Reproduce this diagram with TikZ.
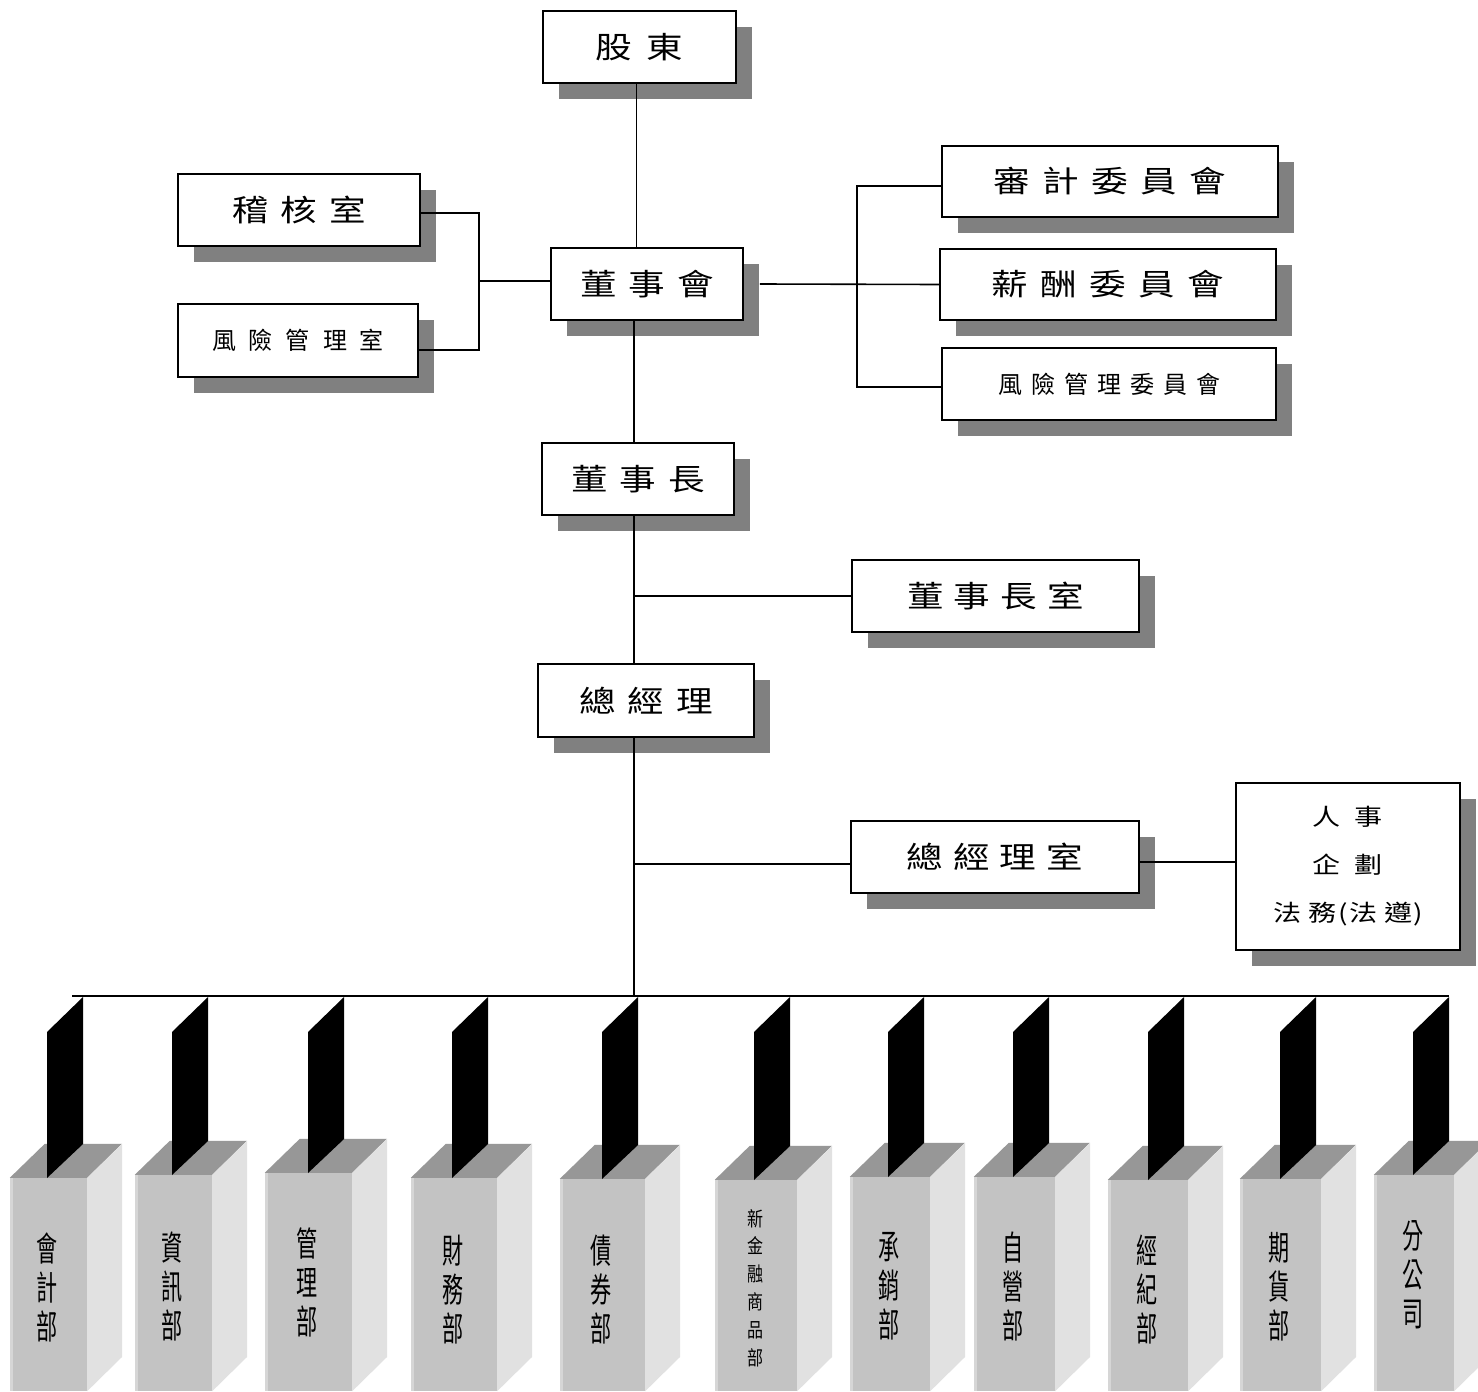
\documentclass[tikz,border=0pt]{standalone}
\usepackage{fontspec}
\setmainfont{Noto Sans CJK TC}
\newfontfamily\titlefont[FakeStretch=1.22]{Noto Sans CJK TC}
\newfontfamily\deptfontfam[FakeStretch=0.62]{Noto Sans CJK TC}
\newfontfamily\smallfontfam[FakeStretch=0.8]{Noto Sans CJK TC}
\usetikzlibrary{shadows,calc}
\definecolor{shadowgray}{HTML}{808080}
\definecolor{frontgray}{HTML}{C3C3C3}
\definecolor{frontedge}{HTML}{D6D6D6}
\definecolor{topgray}{HTML}{979797}
\definecolor{sidegray}{HTML}{E1E1E1}

% one department drawn as a 3-D block hanging from the bus by a black tab
% #1 name, #2 front left, #3 front right, #4 front top, #5 tab left, #6 text centre y, #7 text style, #8 text
\newcommand\deptblock[8]{%
  \pgfmathsetmacro\dbw{#3-#2}%
  \pgfmathsetmacro\dbh{1391-#4}%
  \pgfmathsetmacro\dbcx{(#2+#3)/2}%
  \pgfmathsetmacro\dbcy{(#4+1391)/2}%
  \pgfmathsetmacro\dbxr{#5+36}%
  \pgfmathsetmacro\dbyb{#4-34}%
  \node[deptface, minimum width=\dbw pt, minimum height=\dbh pt] (d#1) at (\dbcx,\dbcy) {};
  \fill[frontedge] (d#1.north west) rectangle ++(3,\dbh);
  \fill[topgray] (d#1.north west) -- ++(35,-34) -- ++(\dbw,0) -- (d#1.north east) -- cycle;
  \fill[sidegray] (d#1.north east) -- ++(35,-34) -- ++(0,\dbh) -- (d#1.south east) -- cycle;
  \fill[black] (#5,#4) -- (\dbxr,\dbyb) -- (\dbxr,997) -- ++(-36,35) -- cycle;
  \node[#7] (t#1) at (\dbcx-1,#6) {#8};
}

\begin{document}
\begin{tikzpicture}[x=1pt,y=-1pt,
  orgbox/.style={draw=black, line width=1.8pt, fill=white, inner sep=0pt,
    general shadow={fill=shadowgray, shadow xshift=16pt, shadow yshift=-16pt}},
  bigtext/.style={font=\titlefont\fontsize{30}{30}\selectfont},
  smalltext/.style={font=\fontsize{24}{24}\selectfont},
  link/.style={line width=1.6pt},
  deptface/.style={fill=frontgray, inner sep=0pt},
  depttext/.style={font=\deptfontfam\fontsize{34}{39}\selectfont, align=center, inner sep=0pt},
  deptsmall/.style={font=\smallfontfam\fontsize{20}{27.8}\selectfont, align=center, inner sep=0pt}]

\fill[white] (0,0) rectangle (1478,1392);
\useasboundingbox (0,0) rectangle (1478,1392);

% guide coordinates for the connector spines
\coordinate (topline) at (636.5,0);
\coordinate (spine) at (634,0);
\coordinate (lb) at (479,0);
\coordinate (rb) at (857,0);
\coordinate (busL) at (72,996);
\coordinate (busR) at (1449,996);

% organisation boxes
\node[orgbox, bigtext, minimum width=193pt, minimum height=72pt] (sh) at (639.5,47) {股\hskip15pt 東};
\node[orgbox, bigtext, minimum width=192pt, minimum height=72pt] (bd) at (647,284) {董\hskip12pt 事\hskip12pt 會};
\node[orgbox, bigtext, minimum width=242pt, minimum height=72pt] (au) at (299,210) {稽\hskip12pt 核\hskip12pt 室};
\node[orgbox, smalltext, minimum width=240pt, minimum height=73pt] (rm) at (298,340.5) {風\hskip13pt 險\hskip13pt 管\hskip13pt 理\hskip13pt 室};
\node[orgbox, bigtext, minimum width=336pt, minimum height=71pt] (ac) at (1110,181.5) {審\hskip12.5pt 計\hskip12.5pt 委\hskip12.5pt 員\hskip12.5pt 會};
\node[orgbox, bigtext, minimum width=336pt, minimum height=71pt] (cc) at (1108,284.5) {薪\hskip12.5pt 酬\hskip12.5pt 委\hskip12.5pt 員\hskip12.5pt 會};
\node[orgbox, smalltext, minimum width=334pt, minimum height=72pt] (rc) at (1109,384) {風\hskip9pt 險\hskip9pt 管\hskip9pt 理\hskip9pt 委\hskip9pt 員\hskip9pt 會};
\node[orgbox, bigtext, minimum width=192pt, minimum height=72pt] (ch) at (638,479) {董\hskip12pt 事\hskip12pt 長};
\node[orgbox, bigtext, minimum width=287pt, minimum height=72pt] (co) at (995.5,596) {董\hskip10pt 事\hskip10pt 長\hskip10pt 室};
\node[orgbox, bigtext, minimum width=216pt, minimum height=73pt] (gm) at (646,700.5) {總\hskip12pt 經\hskip12pt 理};
\node[orgbox, bigtext, minimum width=288pt, minimum height=72pt] (go) at (995,857) {總\hskip10pt 經\hskip10pt 理\hskip10pt 室};
\node[orgbox, align=center, font=\titlefont\fontsize{23}{48}\selectfont, minimum width=224pt, minimum height=167pt] (hr) at (1348,866.5)
  {人\hskip14pt 事\\企\hskip14pt 劃\\法\hskip7pt 務\hskip2pt(\hskip1pt 法\hskip7pt 遵\hskip1pt)};

% connectors
\draw[link] (topline |- sh.south) -- (topline |- bd.north);
\draw[link] (spine |- bd.south) -- (spine |- ch.north);
\draw[link] (spine |- ch.south) -- (spine |- gm.north);
\draw[link] (co.west) -- (co.west -| spine);
\draw[link] (spine |- gm.south) -- (spine |- busL);
\draw[link] ([yshift=-7pt]go.west) -- ([yshift=-7pt]go.west -| spine);
\draw[link] ([yshift=-5pt]go.east) -- ([yshift=-5pt]go.east -| hr.west);

\draw[link] ([yshift=-3pt]au.east) -| ([yshift=-9.5pt]rm.east -| lb) -- ([yshift=-9.5pt]rm.east);
\draw[link] ([yshift=3pt]bd.west) -- ([yshift=3pt]bd.west -| lb);

\draw[link] ([yshift=-4.5pt]ac.west) -| ([yshift=-3pt]rc.west -| rb) -- ([yshift=-3pt]rc.west);
\draw[link] ([xshift=16pt]bd.east) -- (cc.west);

\draw[line width=2pt] (busL) -- (busR);

% departments
\deptblock{1}{10}{87}{1178}{47}{1287}{depttext}{會\\計\\部}
\deptblock{2}{135}{212}{1175}{172}{1286}{depttext}{資\\訊\\部}
\deptblock{3}{265}{352}{1173}{308}{1282}{depttext}{管\\理\\部}
\deptblock{4}{411}{497}{1178}{452}{1290}{depttext}{財\\務\\部}
\deptblock{5}{560}{645}{1179}{602}{1290}{depttext}{債\\券\\部}
\deptblock{6}{715}{797}{1180}{754}{1288}{deptsmall}{新\\金\\融\\商\\品\\部}
\deptblock{7}{850}{930}{1177}{888}{1286}{depttext}{承\\銷\\部}
\deptblock{8}{974}{1055}{1177}{1013}{1286}{depttext}{自\\營\\部}
\deptblock{9}{1108}{1188}{1180}{1148}{1289}{depttext}{經\\紀\\部}
\deptblock{10}{1240}{1321}{1179}{1280}{1287}{depttext}{期\\貨\\部}
\deptblock{11}{1374}{1454}{1175}{1413}{1275}{depttext}{分\\公\\司}

\end{tikzpicture}
\end{document}
